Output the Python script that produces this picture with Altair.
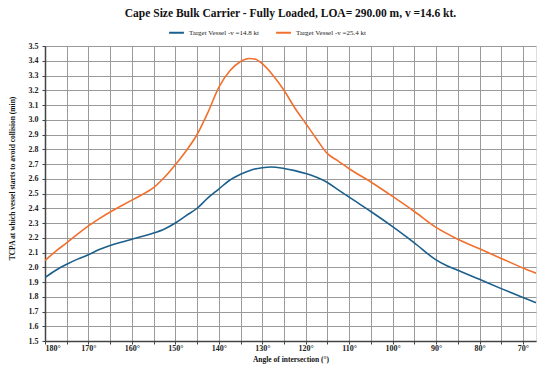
import altair as alt
import pandas as pd

angles_blue = [180, 177.5, 175, 172.5, 170, 167.5, 165, 162.5, 160, 157.5, 155, 152.5, 150, 147.5, 145,
               142.5, 140, 137.5, 135, 132.5, 130, 128, 125, 122.5, 120, 117.5, 115, 112.5, 110, 105,
               100, 95, 90, 87.5, 85, 80, 75, 70, 67]
tcpa_blue = [1.93, 1.98, 2.02, 2.055, 2.085, 2.12, 2.148, 2.17, 2.19, 2.21, 2.232, 2.26, 2.30, 2.35, 2.40,
             2.47, 2.53, 2.59, 2.63, 2.66, 2.675, 2.68, 2.67, 2.655, 2.635, 2.61, 2.575, 2.525, 2.475, 2.378,
             2.275, 2.165, 2.05, 2.01, 1.98, 1.918, 1.855, 1.795, 1.76]

angles_orange = [180, 177.5, 175, 172.5, 170, 167.5, 165, 162.5, 160, 157.5, 155, 152.5, 150, 147.5, 145,
                 142.5, 140, 137.5, 135, 133, 131.5, 130, 127.5, 125, 122.5, 120, 117.5, 115, 112.5, 110,
                 105, 100, 95, 90, 85, 80, 75, 70, 67]
tcpa_orange = [2.045, 2.11, 2.165, 2.225, 2.28, 2.33, 2.375, 2.415, 2.455, 2.495, 2.54, 2.61, 2.695, 2.79, 2.90,
               3.05, 3.22, 3.33, 3.395, 3.415, 3.41, 3.38, 3.30, 3.20, 3.08, 2.975, 2.87, 2.77, 2.72, 2.668,
               2.578, 2.48, 2.378, 2.27, 2.19, 2.125, 2.06, 1.995, 1.96]

series_names = ["Target Vessel -v =14.8 kt", "Target Vessel  -v =25.4 kt"]
series_colors = ["#1B5F8C", "#F26F2C"]

x_ticks = [180, 175, 170, 165, 160, 155, 150, 145, 140, 135, 130, 125, 120, 115, 110, 105, 100, 95, 90, 85, 80, 75, 70]
y_ticks = [round(1.5 + 0.1 * i, 1) for i in range(21)]

df = pd.concat([
    pd.DataFrame({"angle": angles_blue, "tcpa": tcpa_blue, "series": series_names[0], "order": range(len(angles_blue))}),
    pd.DataFrame({"angle": angles_orange, "tcpa": tcpa_orange, "series": series_names[1], "order": range(len(angles_orange))}),
])

font = "Liberation Serif"
axis_style = dict(labelFont=font, titleFont=font, labelFontSize=8, titleFontSize=7.5,
                  labelFontWeight="bold", titleFontWeight="bold", labelColor="#222", titleColor="#111",
                  gridColor="#9a9a9a", gridWidth=1, domainColor="#444", domainWidth=1.5, tickColor="#444")

chart = alt.Chart(df).mark_line(strokeWidth=1.6, interpolate="monotone", clip=True).encode(
    x=alt.X("angle:Q",
            scale=alt.Scale(domain=[180, 67], nice=False, zero=False),
            axis=alt.Axis(values=x_ticks, title="Angle of intersection (°)",
                          labelExpr="datum.value % 10 == 0 ? datum.value + '°' : ''",
                          grid=True, tickSize=3, labelPadding=0, titlePadding=3, **axis_style)),
    y=alt.Y("tcpa:Q",
            scale=alt.Scale(domain=[1.5, 3.5], nice=False, zero=False),
            axis=alt.Axis(values=y_ticks, format=".1f",
                          title="TCPA at which vessel starts to avoid collision (min)",
                          titleY=132, titleX=-29,
                          grid=True, tickSize=3, labelPadding=4, **axis_style)),
    color=alt.Color("series:N",
                    scale=alt.Scale(domain=series_names, range=series_colors),
                    legend=alt.Legend(title=None, orient="none", direction="horizontal",
                                      legendX=123, legendY=-22, symbolType="stroke",
                                      symbolSize=220, symbolStrokeWidth=2, columnPadding=12,
                                      labelFont=font, labelFontSize=7, labelColor="#222")),
    order="order:Q",
).properties(
    width=491,
    height=295,
    title=alt.Title("Cape Size Bulk Carrier - Fully Loaded, LOA= 290.00 m, v =14.6 kt.",
                    font=font, fontSize=11.5, fontWeight="bold", color="#111",
                    frame="group", offset=5, anchor="middle"),
    autosize=alt.AutoSizeParams(type="none"),
    padding={"left": 37, "top": 38, "right": 6, "bottom": 24},
).configure_view(
    stroke="#444", strokeWidth=1.5
).configure(background="white")

chart.save("out.html", embed_options={"renderer": "svg", "actions": False})
